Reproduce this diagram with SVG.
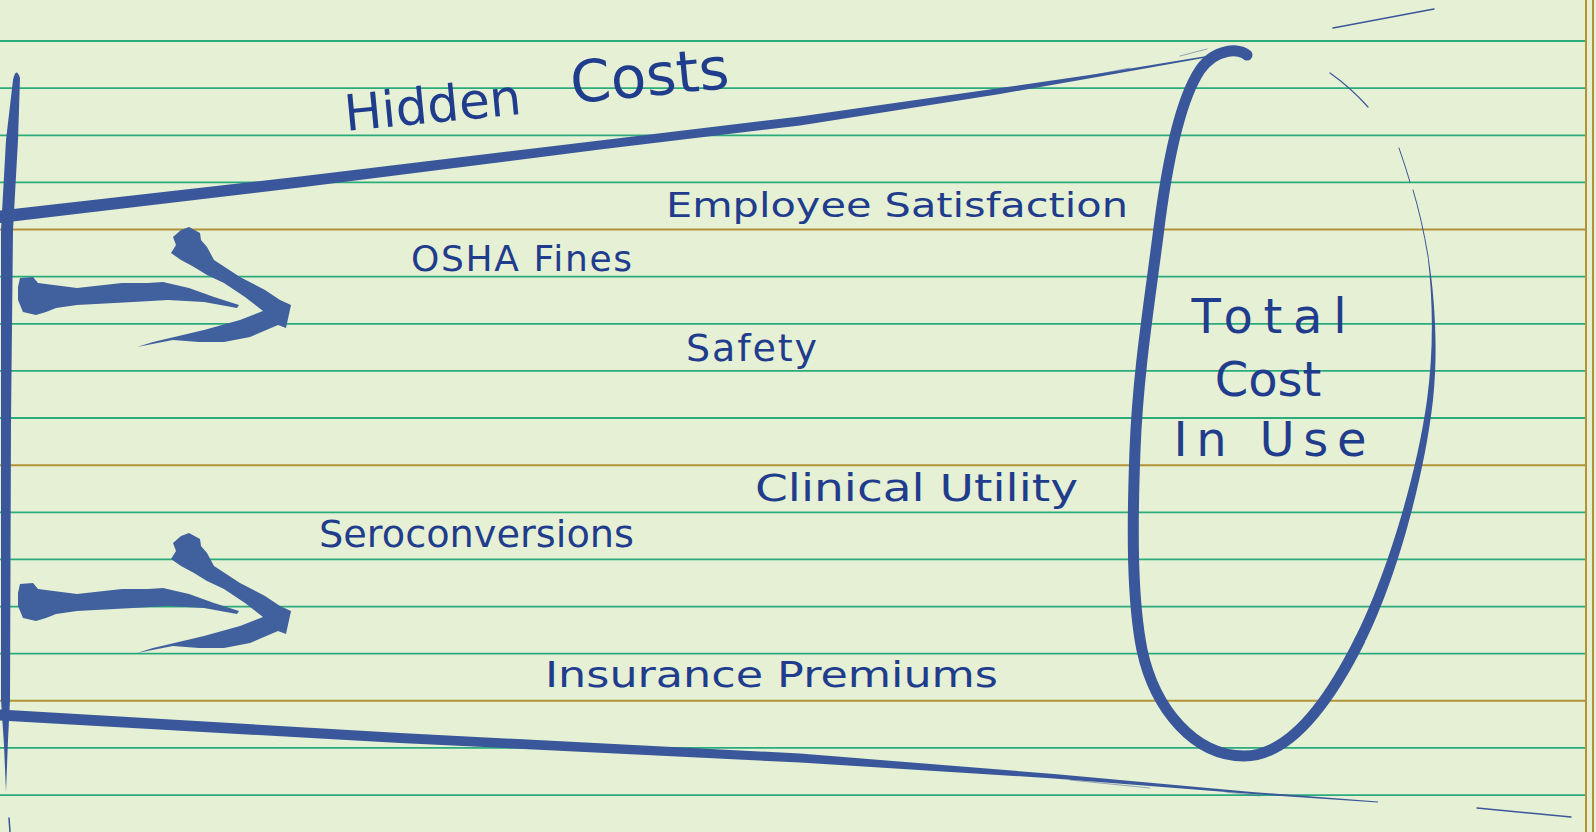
<svg xmlns="http://www.w3.org/2000/svg" xmlns:xlink="http://www.w3.org/1999/xlink" width="1596" height="832" viewBox="0 0 1596 832">
<defs>
<style>
.rule{stroke:#2aab7c;stroke-width:1.8;fill:none}
.gold{stroke:#b39338;stroke-width:2;fill:none}
.ink{fill:#39579a}
.inkline{stroke:#39579a;fill:none;stroke-linecap:round;stroke-linejoin:round}
.brush{fill:#40609e}
.lbl{font-family:"DejaVu Sans","Liberation Sans",sans-serif;fill:#1f3d8c}
</style>
<g id="arrowShape">
<path class="brush" d="M20,278 L33,277 L38,283 L77,288 L122,283 L148,283 L163,282 L189,288 L214,297 L239,305 L237,308 L204,302 L168,300 L133,302 L77,305 L56,308 L46,312 L36,315 L23,312 L18,300 L18,287 Z"/>
<path class="brush" d="M181,230 L189,227 L200,233 L201,240 L207,247 L214,260 L240,277 L265,290 L280,300 L291,305 L286,328 L278,325 L250,337 L224,342 L199,342 L173,340 L137,347 L153,342 L204,330 L240,320 L263,311 L245,297 L224,283 L207,275 L194,267 L181,260 L171,253 L176,245 L173,237 Z"/>
</g>
</defs>
<rect x="0" y="0" width="1596" height="832" fill="#e6f0d4"/>
<g id="paper">
<line class="rule" x1="0" y1="41" x2="1585" y2="41"/>
<line class="rule" x1="0" y1="88.1" x2="1585" y2="88.1"/>
<line class="rule" x1="0" y1="135.3" x2="1585" y2="135.3"/>
<line class="rule" x1="0" y1="182.4" x2="1585" y2="182.4"/>
<line class="gold" x1="0" y1="229.5" x2="1585" y2="229.5"/>
<line class="rule" x1="0" y1="276.7" x2="1585" y2="276.7"/>
<line class="rule" x1="0" y1="323.8" x2="1585" y2="323.8"/>
<line class="rule" x1="0" y1="370.9" x2="1585" y2="370.9"/>
<line class="rule" x1="0" y1="418" x2="1585" y2="418"/>
<line class="gold" x1="0" y1="465.2" x2="1585" y2="465.2"/>
<line class="rule" x1="0" y1="512.3" x2="1585" y2="512.3"/>
<line class="rule" x1="0" y1="559.4" x2="1585" y2="559.4"/>
<line class="rule" x1="0" y1="606.6" x2="1585" y2="606.6"/>
<line class="rule" x1="0" y1="653.7" x2="1585" y2="653.7"/>
<line class="gold" x1="0" y1="700.8" x2="1585" y2="700.8"/>
<line class="rule" x1="0" y1="747.9" x2="1585" y2="747.9"/>
<line class="rule" x1="0" y1="795.1" x2="1585" y2="795.1"/>
<line class="gold" x1="1586" y1="0" x2="1586" y2="832"/>
<line class="gold" x1="1593" y1="0" x2="1593" y2="832"/>
</g>
<g id="connectors">
<!-- left vertical -->
<path class="ink" d="M13,80 Q16,66 20,78 L18,140 L13,230 L11,420 L10,700 L8,740 L6,792 L4,745 L1,700 L1,230 L6,140 Z"/>
<line class="inkline" x1="9" y1="818" x2="10" y2="832" stroke-width="1.5"/>
<!-- top funnel line -->
<path class="ink" d="M0,210.5 L300,176.5 L600,140.5 L800,116.5 L1000,88 L1100,73.5 L1240,50.5 L1240,51.5 L1100,76.5 L1000,94 L800,125.5 L600,149.5 L300,187.5 L0,223 Z"/>
<path class="inkline" d="M1000,93 L1130,68" stroke-width="1" opacity="0.5"/>
<path class="inkline" d="M1180,56 L1207,49" stroke-width="1" opacity="0.5"/>
<path class="inkline" d="M1333,28 L1434,9" stroke-width="1.4"/>
<!-- bottom funnel line -->
<path class="ink" d="M0,709.5 L400,733 L800,753.5 L1054,774 L1252,792 L1378,801.5 L1378,802.5 L1252,794 L1054,778.5 L800,762.5 L400,743 L0,720.5 Z"/>
<path class="inkline" d="M1070,780 L1150,788" stroke-width="1" opacity="0.5"/>
<path class="inkline" d="M1225,792 L1260,796" stroke-width="1" opacity="0.4"/>
<path class="inkline" d="M1477,808 L1571,817" stroke-width="1.4"/>
<!-- ellipse -->
<path class="inkline" stroke-width="11" d="M1247,55 C1240,48 1215,48 1200,70 C1180,100 1168,160 1160,220 C1150,300 1138,370 1135,450 C1132,530 1132,600 1142,650 C1155,710 1195,756 1244,756 C1290,756 1330,700 1360,640"/>
<path class="ink" d="M1366,640 C1395.5,580 1424,480 1433,400 C1438.2,350 1435,300 1428.4,256 L1427.6,256 C1433,300 1433.8,350 1427,400 C1416,480 1384.5,580 1354,640 Z"/>
<path class="inkline" d="M1428,256 Q1422,220 1413,190" stroke-width="1"/>
<path class="inkline" d="M1410,182 Q1405,165 1399,148" stroke-width="1"/>
<path class="inkline" d="M1368,107 Q1350,87 1330,73" stroke-width="1.2"/>
<!-- arrows -->
<use xlink:href="#arrowShape" href="#arrowShape"/>
<use xlink:href="#arrowShape" href="#arrowShape" transform="translate(0,306)"/>
</g>
<g id="title">
<text class="lbl" x="346" y="131" transform="rotate(-5.5 346 131)"><tspan font-size="50">Hidden</tspan><tspan font-size="58" dx="32" dy="-6"> Costs</tspan></text>
</g>
<g id="employee">
<text class="lbl" x="666" y="217" font-size="34" textLength="462" lengthAdjust="spacingAndGlyphs">Employee Satisfaction</text>
</g>
<g id="osha">
<text class="lbl" x="411" y="271" font-size="36" textLength="221" lengthAdjust="spacing">OSHA Fines</text>
</g>
<g id="safety">
<text class="lbl" x="686" y="361" font-size="38" textLength="131" lengthAdjust="spacing">Safety</text>
</g>
<g id="clinical">
<text class="lbl" x="755" y="501" font-size="37" textLength="323" lengthAdjust="spacingAndGlyphs">Clinical Utility</text>
</g>
<g id="sero">
<text class="lbl" x="319" y="547" font-size="38" textLength="315" lengthAdjust="spacingAndGlyphs">Seroconversions</text>
</g>
<g id="insurance">
<text class="lbl" x="545" y="687" font-size="35" textLength="453" lengthAdjust="spacingAndGlyphs">Insurance Premiums</text>
</g>
<g id="total">
<text class="lbl" x="1269" y="333" font-size="48" text-anchor="middle" textLength="155" lengthAdjust="spacing">Total</text>
<text class="lbl" x="1268" y="396" font-size="48" text-anchor="middle">Cost</text>
<text class="lbl" x="1270" y="456" font-size="48" text-anchor="middle" textLength="193" lengthAdjust="spacing">In Use</text>
</g>
</svg>
